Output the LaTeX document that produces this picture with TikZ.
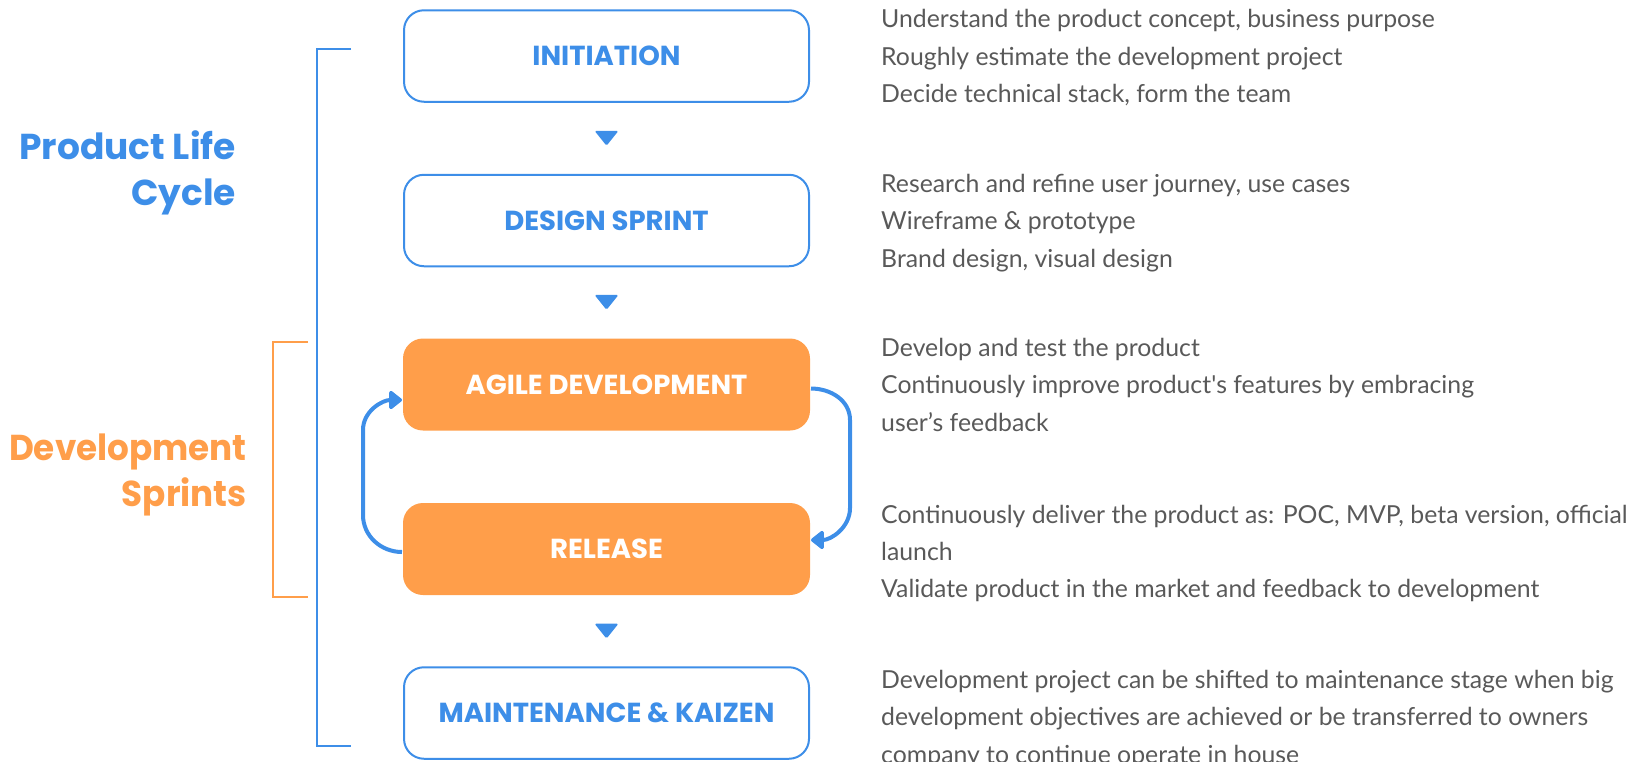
\documentclass[tikz,border=0pt]{standalone}
\usepackage{fontspec}
\usepackage{graphicx}
\setmainfont{Lato}
\newfontfamily\headfont{Poppins}
\usetikzlibrary{arrows.meta,calc}
\definecolor{cblue}{HTML}{3D8EE8}
\definecolor{corange}{HTML}{FF9E4A}
\definecolor{ctext}{HTML}{595959}
\newcommand\dline[3]{\node[descline] (#1) at (881,#2) {#3};}
\begin{document}
\begin{tikzpicture}[x=1pt,y=-1pt,
  box/.style={draw=cblue, line width=2pt, rounded corners=20pt, minimum width=405pt, minimum height=91.5pt, fill=white, text=cblue, font=\headfont\bfseries\fontsize{27.5}{27.5}\selectfont, inner sep=0pt},
  obox/.style={box, draw=none, fill=corange, text=white, minimum width=407pt, minimum height=92pt},
  descline/.style={anchor=base west, text=ctext, font=\fontsize{24.8}{24.8}\selectfont, inner sep=0pt},
  title/.style={anchor=base east, inner sep=0pt, font=\headfont\bfseries\fontsize{36}{36}\selectfont},
  cyclearrow/.style={draw=cblue, line width=4pt, -{Triangle[length=14pt,width=21pt,round]}},
  tri/.style={fill=cblue, rounded corners=1.5pt},
]
\useasboundingbox (0,0) rectangle (1630,761);
\clip (0,0) rectangle (1630,761);

% brackets
\draw[cblue, line width=2pt] (351,49) -- (317,49) -- (317,746) -- (351,746);
\draw[corange, line width=1.6pt] (308,342) -- (273,342) -- (273,597) -- (308,597);

% titles
\node[title, text=cblue] (plc1) at (236,159) {Product Life};
\node[title, text=cblue] (plc2) at (236,205) {Cycle};
\node[title, text=corange] (ds1) at (247,460) {\scalebox{0.95}[1]{Development}};
\node[title, text=corange] (ds2) at (247,506) {\scalebox{0.95}[1]{Sprints}};

% boxes
\node[box] (init) at (606.5,56) {INITIATION};
\node[box] (design) at (606.5,220.5) {DESIGN SPRINT};
\node[obox] (agile) at (606.5,384.5) {AGILE DEVELOPMENT};
\node[obox] (rel) at (606.5,549) {RELEASE};
\node[box] (maint) at (606.5,713) {MAINTENANCE \& KAIZEN};

% small triangles
\coordinate (m1) at ($(init.south)!0.5!(design.north)$);
\coordinate (m2) at ($(design.south)!0.5!(agile.north)$);
\coordinate (m3) at ($(rel.south)!0.5!(maint.north)$);
\foreach \m in {m1,m2,m3}{
  \fill[tri] ($(\m)+(-12,-7.5)$) -- ($(\m)+(12,-7.5)$) -- ($(\m)+(0,7.5)$) -- cycle;
}

% loop arrows
\draw[cyclearrow] ([yshift=-3pt]rel.west) to[out=180,in=270] (363,515) -- (363,430) to[out=90,in=180] ([yshift=-15.5pt]agile.west);
\draw[cyclearrow] ([yshift=-4pt]agile.east) to[out=0,in=90] (850,420) -- (850,508) to[out=270,in=0] ([yshift=9pt]rel.east);

% descriptions
\dline{a1}{27.5}{Understand the product concept, business purpose}
\dline{a2}{65}{Roughly estimate the development project}
\dline{a3}{102.5}{Decide technical stack, form the team}
\dline{b1}{192}{Research and refine user journey, use cases}
\dline{b2}{229.5}{Wireframe \& prototype}
\dline{b3}{267}{Brand design, visual design}
\dline{c1}{356}{Develop and test the product}
\dline{c2}{393.5}{Continuously improve product\textquotesingle s features by embracing}
\dline{c3}{431}{user’s feedback}
\dline{d1}{523}{Continuously deliver the product as: POC, MVP, beta version, official}
\dline{d2}{560}{launch}
\dline{d3}{597}{Validate product in the market and feedback to development}
\dline{e1}{688}{Development project can be shifted to maintenance stage when big}
\dline{e2}{725.5}{development objectives are achieved or be transferred to owners}
\dline{e3}{763}{company to continue operate in house}
\end{tikzpicture}
\end{document}
